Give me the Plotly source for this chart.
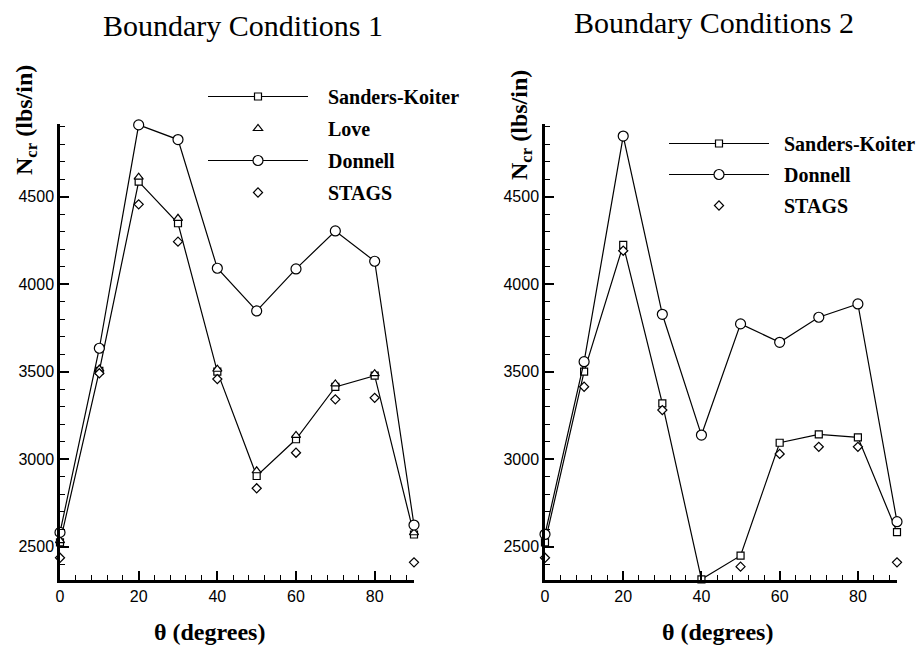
import plotly.graph_objects as go

theta = [0, 10, 20, 30, 40, 50, 60, 70, 80, 90]

# Boundary Conditions 1
bc1_sanders = [2525, 3505, 4586, 4348, 3500, 2904, 3114, 3413, 3477, 2570]
bc1_love = [2535, 3515, 4611, 4376, 3514, 2934, 3136, 3430, 3489, 2580]
bc1_donnell = [2582, 3634, 4910, 4826, 4091, 3847, 4087, 4304, 4131, 2624]
bc1_stags = [2437, 3491, 4456, 4243, 3458, 2834, 3037, 3342, 3351, 2411]

# Boundary Conditions 2
bc2_sanders = [2525, 3500, 4224, 3319, 2314, 2449, 3094, 3142, 3125, 2584]
bc2_donnell = [2571, 3557, 4846, 3828, 3138, 3773, 3668, 3811, 3887, 2643]
theta_stags2 = [0, 10, 20, 30, 50, 60, 70, 80, 90]
bc2_stags = [2437, 3414, 4191, 3281, 2386, 3030, 3071, 3071, 2411]

xticks = [0, 20, 40, 60, 80]
yticks = [2500, 3000, 3500, 4000, 4500]

BLACK = "black"
SERIF = "Liberation Serif, Times New Roman, serif"
SANS = "Liberation Sans, Arial, sans-serif"
PAD1 = "\u00a0\u00a0\u00a0"
PAD2 = "\u00a0\u00a0"

fig = go.Figure()

def mk(symbol, size):
    return dict(symbol=symbol, size=size, color="white",
                line=dict(color=BLACK, width=1.2))

common = dict(cliponaxis=False)

# left panel
fig.add_trace(go.Scatter(x=theta, y=bc1_sanders, mode="lines+markers", name=PAD1 + "Sanders-Koiter",
                         line=dict(color=BLACK, width=1.2), marker=mk("square", 7),
                         xaxis="x", yaxis="y", legend="legend", legendgroup="a", **common))
fig.add_trace(go.Scatter(x=theta, y=bc1_love, mode="markers", name=PAD1 + "Love",
                         marker=mk("triangle-up", 8),
                         xaxis="x", yaxis="y", legend="legend", legendgroup="b", **common))
fig.add_trace(go.Scatter(x=theta, y=bc1_donnell, mode="lines+markers", name=PAD1 + "Donnell",
                         line=dict(color=BLACK, width=1.2), marker=mk("circle", 10),
                         xaxis="x", yaxis="y", legend="legend", legendgroup="c", **common))
fig.add_trace(go.Scatter(x=theta, y=bc1_stags, mode="markers", name=PAD1 + "STAGS",
                         marker=mk("diamond", 7),
                         xaxis="x", yaxis="y", legend="legend", legendgroup="d", **common))

# right panel
fig.add_trace(go.Scatter(x=theta, y=bc2_sanders, mode="lines+markers", name=PAD2 + "Sanders-Koiter",
                         line=dict(color=BLACK, width=1.2), marker=mk("square", 7),
                         xaxis="x2", yaxis="y2", legend="legend2", legendgroup="e", **common))
fig.add_trace(go.Scatter(x=theta, y=bc2_donnell, mode="lines+markers", name=PAD2 + "Donnell",
                         line=dict(color=BLACK, width=1.2), marker=mk("circle", 10),
                         xaxis="x2", yaxis="y2", legend="legend2", legendgroup="f", **common))
fig.add_trace(go.Scatter(x=theta_stags2, y=bc2_stags, mode="markers", name=PAD2 + "STAGS",
                         marker=mk("diamond", 7),
                         xaxis="x2", yaxis="y2", legend="legend2", legendgroup="g", **common))

xcommon = dict(range=[0, 90], tickvals=xticks, ticks="inside", ticklen=9, tickwidth=1.5,
               tickcolor=BLACK, showline=True, linecolor=BLACK, linewidth=2.5,
               showgrid=False, zeroline=False,
               tickfont=dict(family=SANS, size=16, color=BLACK),
               minor=dict(dtick=4, tick0=0, ticks="inside", ticklen=5, tickwidth=1.2,
                          tickcolor=BLACK, showgrid=False))
ycommon = dict(range=[2310, 4915], tickvals=yticks, ticks="inside", ticklen=9, tickwidth=1.5,
               tickcolor=BLACK, showline=True, linecolor=BLACK, linewidth=2.5,
               showgrid=False, zeroline=False,
               tickfont=dict(family=SANS, size=16, color=BLACK),
               minor=dict(dtick=100, tick0=2500, ticks="inside", ticklen=5, tickwidth=1.2,
                          tickcolor=BLACK, showgrid=False))

L, R, T, B = 60, 25, 124, 65
W, H = 922, 645
pw = W - L - R
ph = H - T - B

def px(xp):
    return (xp - L) / pw

def py(yp):
    return (H - B - yp) / ph

legfont = dict(family=SERIF, size=20, color=BLACK, weight="bold")

fig.update_layout(
    width=W, height=H,
    margin=dict(l=L, r=R, t=T, b=B, autoexpand=False),
    paper_bgcolor="white", plot_bgcolor="white",
    xaxis=dict(domain=[0, px(414)], anchor="y", **xcommon),
    yaxis=dict(domain=[0, 1], anchor="x", **ycommon),
    xaxis2=dict(domain=[px(545), 1], anchor="y2", **xcommon),
    yaxis2=dict(domain=[0, 1], anchor="x2", **ycommon),
    legend=dict(x=px(203), y=py(77), xanchor="left", yanchor="top",
                font=legfont, bgcolor="rgba(0,0,0,0)", itemwidth=100, tracegroupgap=3,
                traceorder="grouped"),
    legend2=dict(x=px(664), y=py(124), xanchor="left", yanchor="top",
                 font=legfont, bgcolor="rgba(0,0,0,0)", itemwidth=100, tracegroupgap=2,
                 traceorder="grouped"),
    showlegend=True,
)

ann = []
ann.append(dict(text="Boundary Conditions 1", x=px(243), y=py(25), xref="paper", yref="paper",
                showarrow=False, xanchor="center", yanchor="middle",
                font=dict(family=SERIF, size=30, color=BLACK)))
ann.append(dict(text="Boundary Conditions 2", x=px(714), y=py(22), xref="paper", yref="paper",
                showarrow=False, xanchor="center", yanchor="middle",
                font=dict(family=SERIF, size=30, color=BLACK)))
for xc in (209, 717):
    ann.append(dict(text="<b>θ (degrees)</b>", x=px(xc), y=py(632), xref="paper", yref="paper",
                    showarrow=False, xanchor="center", yanchor="middle",
                    font=dict(family=SERIF, size=24, color=BLACK)))
for xc, yc in ((26, 120), (521, 125)):
    ann.append(dict(text="<b>N<sub>cr</sub> (lbs/in)</b>", x=px(xc), y=py(yc), xref="paper", yref="paper",
                    showarrow=False, xanchor="center", yanchor="middle", textangle=-90,
                    font=dict(family=SERIF, size=24, color=BLACK)))
fig.update_layout(annotations=ann)

fig.write_html("out.html", config={"displayModeBar": False},
               post_script="document.body.style.margin='0px';")
